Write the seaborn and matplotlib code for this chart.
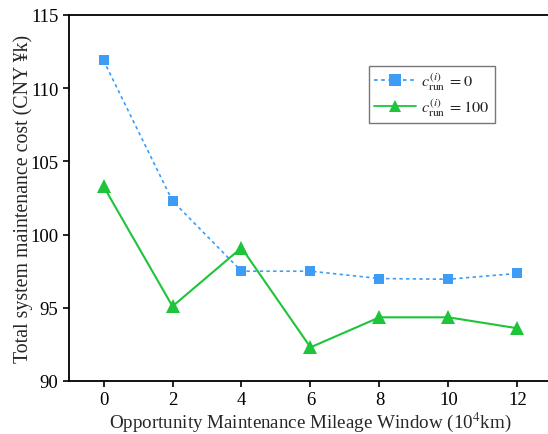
import pandas as pd
import matplotlib
matplotlib.use('Agg')
import matplotlib.pyplot as plt
import seaborn as sns

windows = [0, 2, 4, 6, 8, 10, 12]
cost_run0 = [111.9, 102.3, 97.5, 97.5, 97.0, 96.95, 97.35]
cost_run100 = [103.3, 95.1, 99.1, 92.3, 94.35, 94.35, 93.6]
labels = [r'$c_{\mathrm{run}}^{(i)}\;=0$', r'$c_{\mathrm{run}}^{(i)}\;=100$']

df = pd.DataFrame({
    'window': windows * 2,
    'cost': cost_run0 + cost_run100,
    'case': [labels[0]] * len(windows) + [labels[1]] * len(windows),
})

sns.set_style('ticks')
plt.rcParams['font.family'] = ['Liberation Serif', 'DejaVu Serif']
plt.rcParams['mathtext.fontset'] = 'stix'

fig = plt.figure(figsize=(5.48, 4.35), dpi=100)
ax = fig.add_axes([69 / 548, 53 / 435, 483 / 548, 366 / 435])

sns.lineplot(data=df, x='window', y='cost', hue='case', style='case', ax=ax,
             palette=['#3d9cf5', '#1ec43a'],
             markers={labels[0]: 's', labels[1]: '^'},
             dashes={labels[0]: (2, 2), labels[1]: ''},
             markersize=8, markeredgewidth=0, linewidth=1.3)
# square a bit smaller, triangle a bit bigger
ax.lines[0].set_markersize(7.5)
ax.lines[0].set_linewidth(1.2)
ax.lines[1].set_markersize(9.5)
ax.lines[1].set_linewidth(1.5)

ax.set_xlim(-1, 13)
ax.set_ylim(90, 115)
ax.set_xticks(windows)
ax.set_yticks([90, 95, 100, 105, 110, 115])
ax.tick_params(labelsize=13.5, direction='out', length=4.5, width=1.2, colors='black', pad=3)
for s in ax.spines.values():
    s.set_linewidth(1.3)
    s.set_color('black')
ax.spines['right'].set_visible(False)

ax.set_xlabel('Opportunity Maintenance Mileage Window (10$^{4}$km)', fontsize=13.7, labelpad=1)
ax.set_ylabel('Total system maintenance cost (CNY ¥k)', fontsize=14.3, labelpad=-2)

handles, _ = ax.get_legend_handles_labels()
leg = ax.legend(handles, labels, loc='upper left', bbox_to_anchor=(0.621, 0.861),
                borderaxespad=0, fontsize=11.8,
                frameon=True, fancybox=False, edgecolor='#555555',
                handlelength=2.6, borderpad=0.3, labelspacing=0.25, handletextpad=0.3)
leg.get_frame().set_linewidth(1.0)

fig.savefig('out.png', dpi=100)
